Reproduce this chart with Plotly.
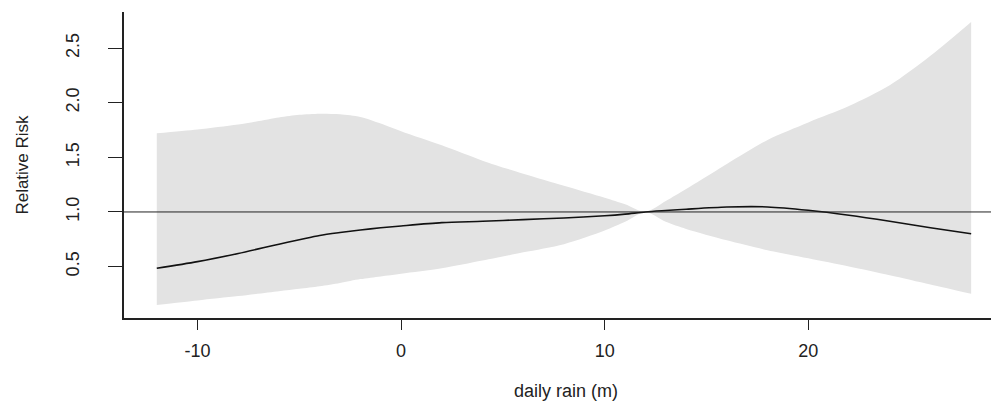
import plotly.graph_objects as go

rain = [-12, -10, -8, -6, -5, -4, -3, -2, -1, 0, 2, 4, 6, 8, 10, 11, 12, 13, 14, 16, 18, 20, 22, 24, 26, 28]
rr = [0.484, 0.545, 0.62, 0.705, 0.745, 0.785, 0.812, 0.835, 0.855, 0.872, 0.902, 0.915, 0.93, 0.945, 0.965,
      0.98, 1.00, 1.013, 1.025, 1.045, 1.046, 1.015, 0.97, 0.915, 0.855, 0.80]
rr_low = [0.148, 0.19, 0.23, 0.275, 0.297, 0.32, 0.35, 0.385, 0.41, 0.435, 0.485, 0.555, 0.63, 0.705, 0.83,
          0.91, 1.00, 0.91, 0.845, 0.74, 0.65, 0.575, 0.50, 0.42, 0.335, 0.25]
rr_high = [1.72, 1.755, 1.80, 1.865, 1.89, 1.90, 1.895, 1.87, 1.81, 1.74, 1.61, 1.47, 1.35, 1.24, 1.13,
           1.07, 1.00, 1.10, 1.21, 1.44, 1.66, 1.82, 1.97, 2.16, 2.43, 2.74]
x_ticks = [-10, 0, 10, 20]
x_tick_labels = ["-10", "0", "10", "20"]
y_ticks = [0.5, 1.0, 1.5, 2.0, 2.5]
y_tick_labels = ["0.5", "1.0", "1.5", "2.0", "2.5"]

FONT = "Liberation Sans, Arial, sans-serif"
band = "#e3e3e3"

fig = go.Figure()
fig.add_trace(go.Scatter(x=rain, y=rr_low, mode="lines", line=dict(width=0, color=band, shape="spline", smoothing=0.8),
                         hoverinfo="skip", showlegend=False))
fig.add_trace(go.Scatter(x=rain, y=rr_high, mode="lines", line=dict(width=0, color=band, shape="spline", smoothing=0.8),
                         fill="tonexty", fillcolor=band, hoverinfo="skip", showlegend=False))
fig.add_hline(y=1, line=dict(color="#222222", width=1))
fig.add_trace(go.Scatter(x=rain, y=rr, mode="lines", line=dict(color="#111111", width=1.6, shape="spline", smoothing=0.8),
                         showlegend=False))

# the page body has an 8px margin, so the figure is offset by 8px;
# the plot area runs slightly past the right edge of the window, as in the reference
fig.update_layout(
    width=1000, height=393,
    margin=dict(l=116, r=0, t=4, b=83),
    paper_bgcolor="white", plot_bgcolor="white",
    font=dict(family=FONT, size=17, color="#222222"),
    xaxis=dict(
        range=[-13.61, 29.81], tickmode="array", tickvals=x_ticks, ticktext=x_tick_labels,
        showgrid=False, zeroline=False, showline=True, linecolor="#222222", linewidth=1.5,
        ticks="outside", ticklen=10, tickwidth=1.2, tickcolor="#222222",
        tickfont=dict(size=18), ticklabelstandoff=6,
        title=dict(text="daily rain (m)", font=dict(size=18), standoff=24),
    ),
    yaxis=dict(
        range=[0.029, 2.831], tickmode="array", tickvals=y_ticks, ticktext=y_tick_labels,
        showgrid=False, zeroline=False, showline=True, linecolor="#222222", linewidth=1.5,
        ticks="outside", ticklen=14, tickwidth=1.2, tickcolor="#222222",
        tickangle=-90, tickfont=dict(size=18), ticklabelstandoff=22,
        title=dict(text="Relative Risk", font=dict(size=17), standoff=30),
    ),
)

fig.write_html("out.html")
